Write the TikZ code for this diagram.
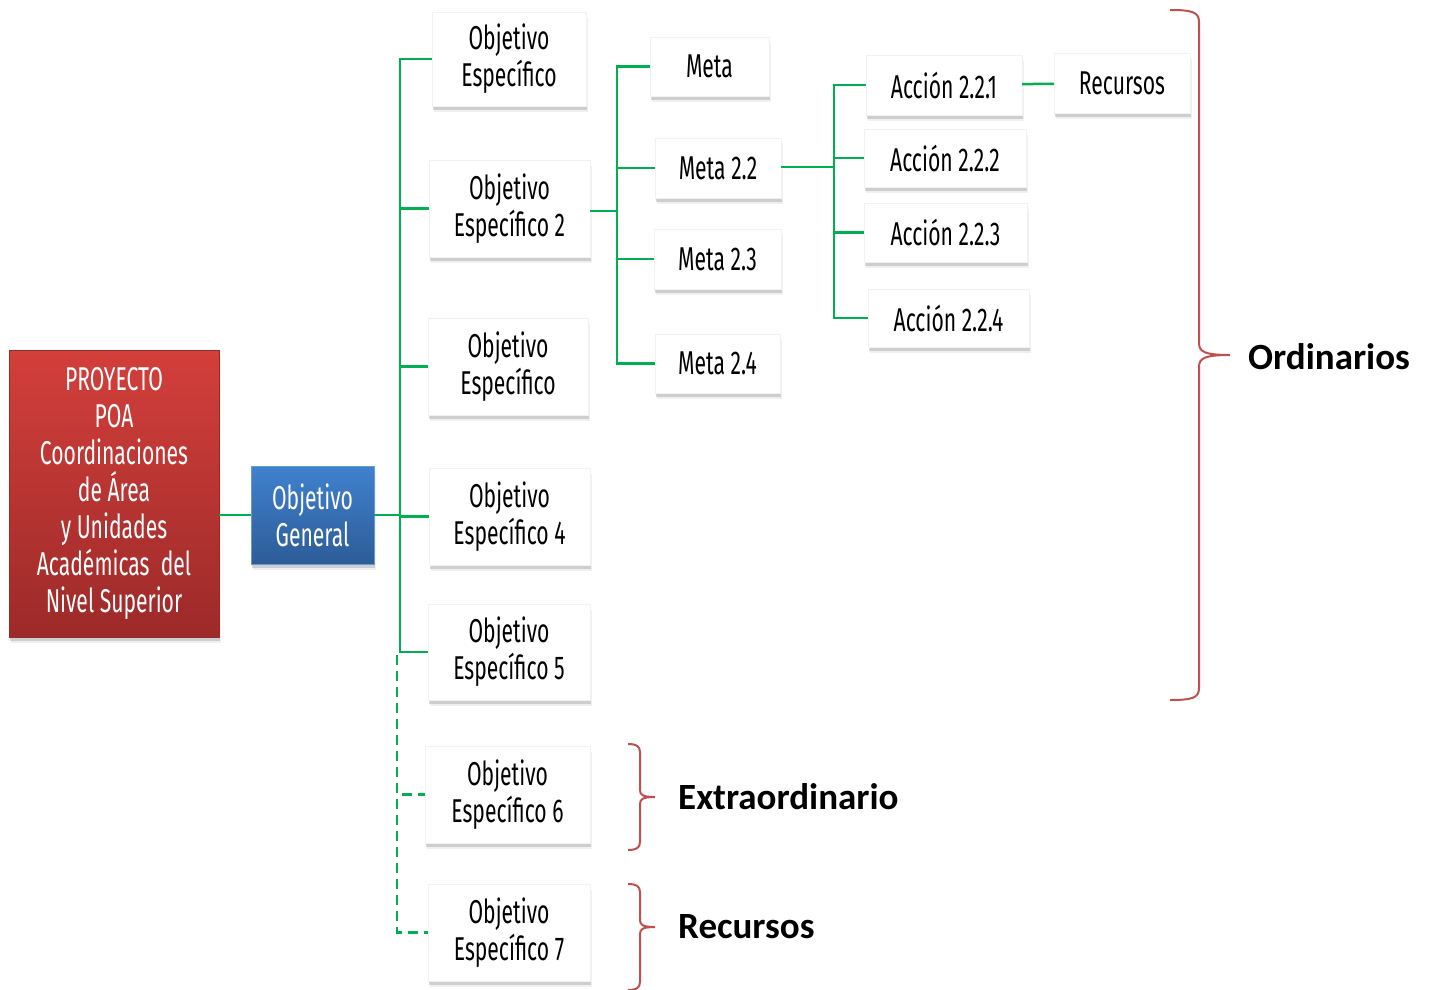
\documentclass[tikz,border=0pt]{standalone}
\usepackage{fontspec}
\setmainfont{Carlito}
\newfontfamily\agencia[FakeStretch=0.64]{Fira Sans}
\usetikzlibrary{shadows}

\definecolor{verde}{HTML}{00B050}
\definecolor{rojollave}{HTML}{C0504D}
\definecolor{rojoarriba}{HTML}{D33F3B}
\definecolor{rojoabajo}{HTML}{9C2A29}
\definecolor{azularriba}{HTML}{4081CE}
\definecolor{azulabajo}{HTML}{2D5C98}

\tikzset{
  caja/.style={rectangle, fill=white, draw=black!5, align=center, inner sep=0pt,
    font=\agencia\fontsize{33}{37}\selectfont,
    drop shadow={shadow xshift=1.5pt, shadow yshift=-6pt, fill=black!40, opacity=0.15},
    drop shadow={shadow xshift=1pt, shadow yshift=-3.5pt, fill=black!50, opacity=0.3}},
  conector/.style={draw=verde, line width=2.5pt},
  llave/.style={draw=rojollave, line width=2pt},
  etiqueta/.style={font=\bfseries\fontsize{37}{40}\selectfont, anchor=west, inner sep=0pt}
}

\begin{document}
\begin{tikzpicture}[x=1pt,y=-1pt]
        \useasboundingbox (0,0) rectangle (1429,990);

        \node[caja, top color=rojoarriba, bottom color=rojoabajo, draw=rojoarriba!70!black,
             text=white, minimum width=210, minimum height=287] (proyecto) at (114,493.5)
             {PROYECTO\\ POA\\Coordinaciones\\de Área\\y Unidades\\Académicas\ \ del\\Nivel Superior};
        \node[caja, top color=azularriba, bottom color=azulabajo, draw=azularriba!80!white,
             text=white, minimum width=123, minimum height=98] (general) at (312.5,515)
             {Objetivo\\General};

        \node[caja, minimum width=154, minimum height=94] (esp1) at (509,59) {Objetivo\\Específico};
        \node[caja, minimum width=161, minimum height=97] (esp2) at (509.5,208.5) {Objetivo\\Específico 2};
        \node[caja, minimum width=160, minimum height=97] (esp3) at (508,366.5) {Objetivo\\Específico};
        \node[caja, minimum width=161, minimum height=97] (esp4) at (509.5,516.5) {Objetivo\\Específico 4};
        \node[caja, minimum width=162, minimum height=96] (esp5) at (509,652) {Objetivo\\Específico 5};
        \node[caja, minimum width=165, minimum height=97] (esp6) at (507.5,794.5) {Objetivo\\Específico 6};
        \node[caja, minimum width=162, minimum height=97] (esp7) at (509,932.5) {Objetivo\\Específico 7};

        \node[caja, minimum width=119, minimum height=59] (meta1) at (709.5,66.5) {Meta};
        \node[caja, minimum width=126, minimum height=60] (meta22) at (718,168) {Meta 2.2};
        \node[caja, minimum width=127, minimum height=60] (meta23) at (717.5,259) {Meta 2.3};
        \node[caja, minimum width=125, minimum height=59] (meta24) at (717.5,363.5) {Meta 2.4};

        \node[caja, minimum width=156, minimum height=60] (acc1) at (944,85) {Acción 2.2.1};
        \node[caja, minimum width=162, minimum height=58] (acc2) at (945,158) {Acción 2.2.2};
        \node[caja, minimum width=163, minimum height=59] (acc3) at (945.5,232.5) {Acción 2.2.3};
        \node[caja, minimum width=161, minimum height=58] (acc4) at (948.5,318) {Acción 2.2.4};
        \node[caja, minimum width=136, minimum height=60] (recursos) at (1122,83) {Recursos};

        % ramas
        \coordinate (bus1) at (400,515);
        \coordinate (bus1b) at (397,655);
        \coordinate (bus2) at (617,211);
        \coordinate (bus3) at (834,167);

        \draw[conector] (proyecto.east |- general) -- (general);
        \draw[conector] (general) -- (bus1);
        \foreach \n in {esp1,esp2,esp3,esp4,esp5}
          \draw[conector] (bus1) |- (\n);
        \foreach \n in {esp6,esp7}
          \draw[conector, dash pattern=on 10pt off 6pt] (bus1b) |- (\n);

        \draw[conector] (esp2.east |- bus2) -- (bus2);
        \foreach \n in {meta1,meta22,meta23,meta24}
          \draw[conector] (bus2) |- (\n);

        \draw[conector] (meta22.east |- bus3) -- (bus3);
        \foreach \n in {acc1,acc2,acc3,acc4}
          \draw[conector] (bus3) |- (\n);
        \draw[conector] (acc1) -- (recursos);

        % llaves
        \draw[llave] (1170,10) .. controls (1192,10) and (1199,12) .. (1199,22) -- (1199,343)
             .. controls (1199,352) and (1205,355) .. (1230,355)
             .. controls (1205,355) and (1199,358) .. (1199,367) -- (1199,688)
             .. controls (1199,698) and (1192,700) .. (1170,700);
        \draw[llave] (628,744) .. controls (636,744) and (640,746) .. (640,752) -- (640,790)
             .. controls (640,795) and (643,797) .. (655,797)
             .. controls (643,797) and (640,799) .. (640,804) -- (640,842)
             .. controls (640,848) and (636,850) .. (628,850);
        \draw[llave] (628,884) .. controls (636,884) and (640,886) .. (640,892) -- (640,920)
             .. controls (640,925) and (643,927) .. (655,927)
             .. controls (643,927) and (640,929) .. (640,934) -- (640,982)
             .. controls (640,988) and (636,990) .. (628,990);

        \node[etiqueta] (ordinarios) at (1248,357) {Ordinarios};
        \node[etiqueta] (extra) at (678,797) {Extraordinario};
        \node[etiqueta] (recursoslbl) at (678,927) {Recursos};
\end{tikzpicture}
\end{document}
